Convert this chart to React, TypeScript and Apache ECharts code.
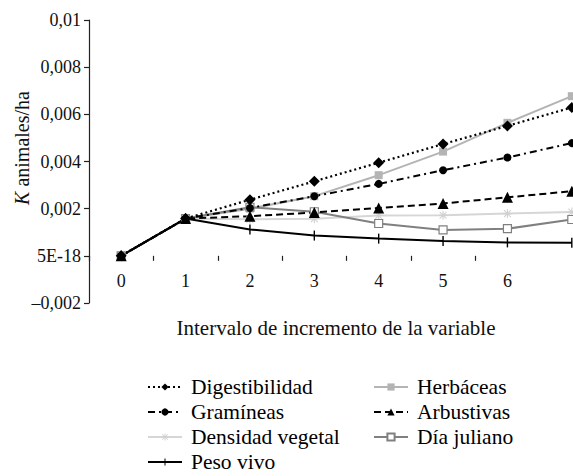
import React, { useEffect, useRef } from "react";
import * as echarts from "echarts";

const categories = ["0", "1", "2", "3", "4", "5", "6", "7"];
const digestibilidad = [0, 0.00158, 0.00238, 0.00316, 0.00395, 0.00474, 0.00551, 0.00629];
const herbaceas = [0, 0.00158, 0.002, 0.00253, 0.00342, 0.00442, 0.00564, 0.00677];
const gramineas = [0, 0.00158, 0.00203, 0.00253, 0.00305, 0.00363, 0.00417, 0.00478];
const arbustivas = [0, 0.00158, 0.00168, 0.00184, 0.00203, 0.00222, 0.00248, 0.00274];
const densidadVegetal = [0, 0.00158, 0.00155, 0.00157, 0.00171, 0.00172, 0.00179, 0.00186];
const diaJuliano = [0, 0.00158, 0.00206, 0.00187, 0.00137, 0.0011, 0.00115, 0.00154];
const pesoVivo = [0, 0.00158, 0.00112, 0.00086, 0.00073, 0.00063, 0.00057, 0.00055];

const legendLeft = ["Digestibilidad", "Gramíneas", "Densidad vegetal", "Peso vivo"];
const legendRight = ["Herbáceas", "Arbustivas", "Día juliano"];

const Y_MIN = -0.002;
const Y_MAX = 0.01;
const Y_STEP = 0.002;

const FONT = "'Liberation Serif', 'Times New Roman', serif";

const ASTERISK =
  "path://M4.4,0 L5.6,0 L5.6,10 L4.4,10 Z M0,4.4 L10,4.4 L10,5.6 L0,5.6 Z " +
  "M0.8,1.6 L1.6,0.8 L9.2,8.4 L8.4,9.2 Z M8.4,0.8 L9.2,1.6 L1.6,9.2 L0.8,8.4 Z";
const VTICK = "path://M0,0 M10,10 M4.3,0 L5.7,0 L5.7,10 L4.3,10 Z";

export default function App() {
  const ref = useRef<HTMLDivElement>(null);
  useEffect(() => {
    if (!ref.current) return;
    const chart = echarts.init(ref.current, undefined, { renderer: "svg" });
    const gridLeft = 81;
    const gridTop = 12;
    const gridWidth = 515;
    const gridHeight = 283;
    // height of the part of the plot above y = 0, for the axis that carries the category ticks
    const zeroHeight = (gridHeight * (Y_MAX - 0)) / (Y_MAX - Y_MIN);
    const legendCommon = {
      orient: "vertical" as const,
      padding: 0,
      itemWidth: 34,
      itemHeight: 9,
      itemGap: 3,
      textStyle: {
        fontFamily: FONT,
        fontSize: 21.5,
        lineHeight: 20,
        color: "#000",
        padding: [0, 0, 0, 4],
      },
    };
    chart.setOption({
      animation: false,
      backgroundColor: "#fff",
      grid: [
        { left: gridLeft, top: gridTop, width: gridWidth, height: gridHeight },
        { left: gridLeft, top: gridTop, width: gridWidth, height: zeroHeight },
      ],
      xAxis: [
        {
          type: "category",
          gridIndex: 0,
          data: categories,
          boundaryGap: true,
          show: false,
        },
        {
          type: "category",
          gridIndex: 1,
          data: categories,
          boundaryGap: true,
          position: "bottom",
          axisLine: { show: false, onZero: false },
          axisTick: { show: true, length: 5, inside: false, lineStyle: { color: "#222", width: 1.2 } },
          axisLabel: {
            fontFamily: FONT,
            fontSize: 18,
            color: "#111",
            margin: 16,
            interval: (i: number) => i < categories.length - 1,
          },
          splitLine: { show: false },
        },
      ],
      yAxis: [
        {
          type: "value",
          gridIndex: 0,
          min: Y_MIN,
          max: Y_MAX,
          interval: Y_STEP,
          axisLine: { show: true, lineStyle: { color: "#222", width: 1.2 } },
          axisTick: { show: true, length: 5, lineStyle: { color: "#222", width: 1.2 } },
          axisLabel: {
            fontFamily: FONT,
            fontSize: 18,
            color: "#111",
            margin: 8,
            formatter: (v: number) => {
              const r = Math.round(v * 1000) / 1000;
              if (r === 0) return "5E-18";
              const s = Math.abs(r).toString().replace(".", ",");
              return r < 0 ? "\u2013" + s : s;
            },
          },
          splitLine: { show: false },
        },
        {
          type: "value",
          gridIndex: 1,
          min: 0,
          max: Y_MAX,
          show: false,
        },
      ],
      legend: [
        { ...legendCommon, left: 139, top: 368, data: legendLeft },
        { ...legendCommon, left: 365, top: 368, data: legendRight },
      ],
      graphic: [
        {
          type: "text",
          x: 14,
          y: 140,
          rotation: Math.PI / 2,
          style: {
            text: "{k|K} animales/ha",
            fontFamily: FONT,
            fontSize: 20,
            fill: "#111",
            align: "center",
            verticalAlign: "middle",
            rich: { k: { fontStyle: "italic", fontFamily: FONT, fontSize: 20, fill: "#111" } },
          },
        },
        {
          type: "text",
          x: 328,
          y: 320,
          style: {
            text: "Intervalo de incremento de la variable",
            fontFamily: FONT,
            fontSize: 21,
            fill: "#111",
            align: "center",
            verticalAlign: "middle",
          },
        },
      ],
      series: [
        {
          name: "Densidad vegetal",
          type: "line",
          data: densidadVegetal,
          symbol: ASTERISK,
          symbolSize: 9,
          lineStyle: { color: "#d6d6d6", width: 2, type: "solid" },
          itemStyle: { color: "#d0d0d0" },
        },
        {
          name: "Herbáceas",
          type: "line",
          data: herbaceas,
          symbol: "rect",
          symbolSize: 8,
          lineStyle: { color: "#b4b4b4", width: 2, type: "solid" },
          itemStyle: { color: "#b4b4b4" },
        },
        {
          name: "Día juliano",
          type: "line",
          data: diaJuliano,
          symbol: "rect",
          symbolSize: 8,
          lineStyle: { color: "#808080", width: 2, type: "solid" },
          itemStyle: { color: "#fff", borderColor: "#808080", borderWidth: 1.2 },
        },
        {
          name: "Peso vivo",
          type: "line",
          data: pesoVivo,
          symbol: VTICK,
          symbolSize: 10,
          lineStyle: { color: "#000", width: 2, type: "solid" },
          itemStyle: { color: "#000" },
        },
        {
          name: "Gramíneas",
          type: "line",
          data: gramineas,
          symbol: "circle",
          symbolSize: 8,
          lineStyle: { color: "#000", width: 2, type: [7, 4, 2, 4] },
          itemStyle: { color: "#000" },
        },
        {
          name: "Digestibilidad",
          type: "line",
          data: digestibilidad,
          symbol: "diamond",
          symbolSize: 11,
          lineStyle: { color: "#000", width: 2.2, type: [2, 3] },
          itemStyle: { color: "#000" },
        },
        {
          name: "Arbustivas",
          type: "line",
          data: arbustivas,
          symbol: "triangle",
          symbolSize: 11,
          lineStyle: { color: "#000", width: 2, type: [7, 4] },
          itemStyle: { color: "#000" },
        },
      ],
    });
    return () => chart.dispose();
  }, []);
  return (
    <>
      <style>{"body{margin:0;overflow:hidden}"}</style>
      <div style={{ width: 565, height: 468, margin: "8px 0 0 8px", overflow: "hidden" }}>
        <div ref={ref} style={{ width: 600, height: 520 }} />
      </div>
    </>
  );
}
